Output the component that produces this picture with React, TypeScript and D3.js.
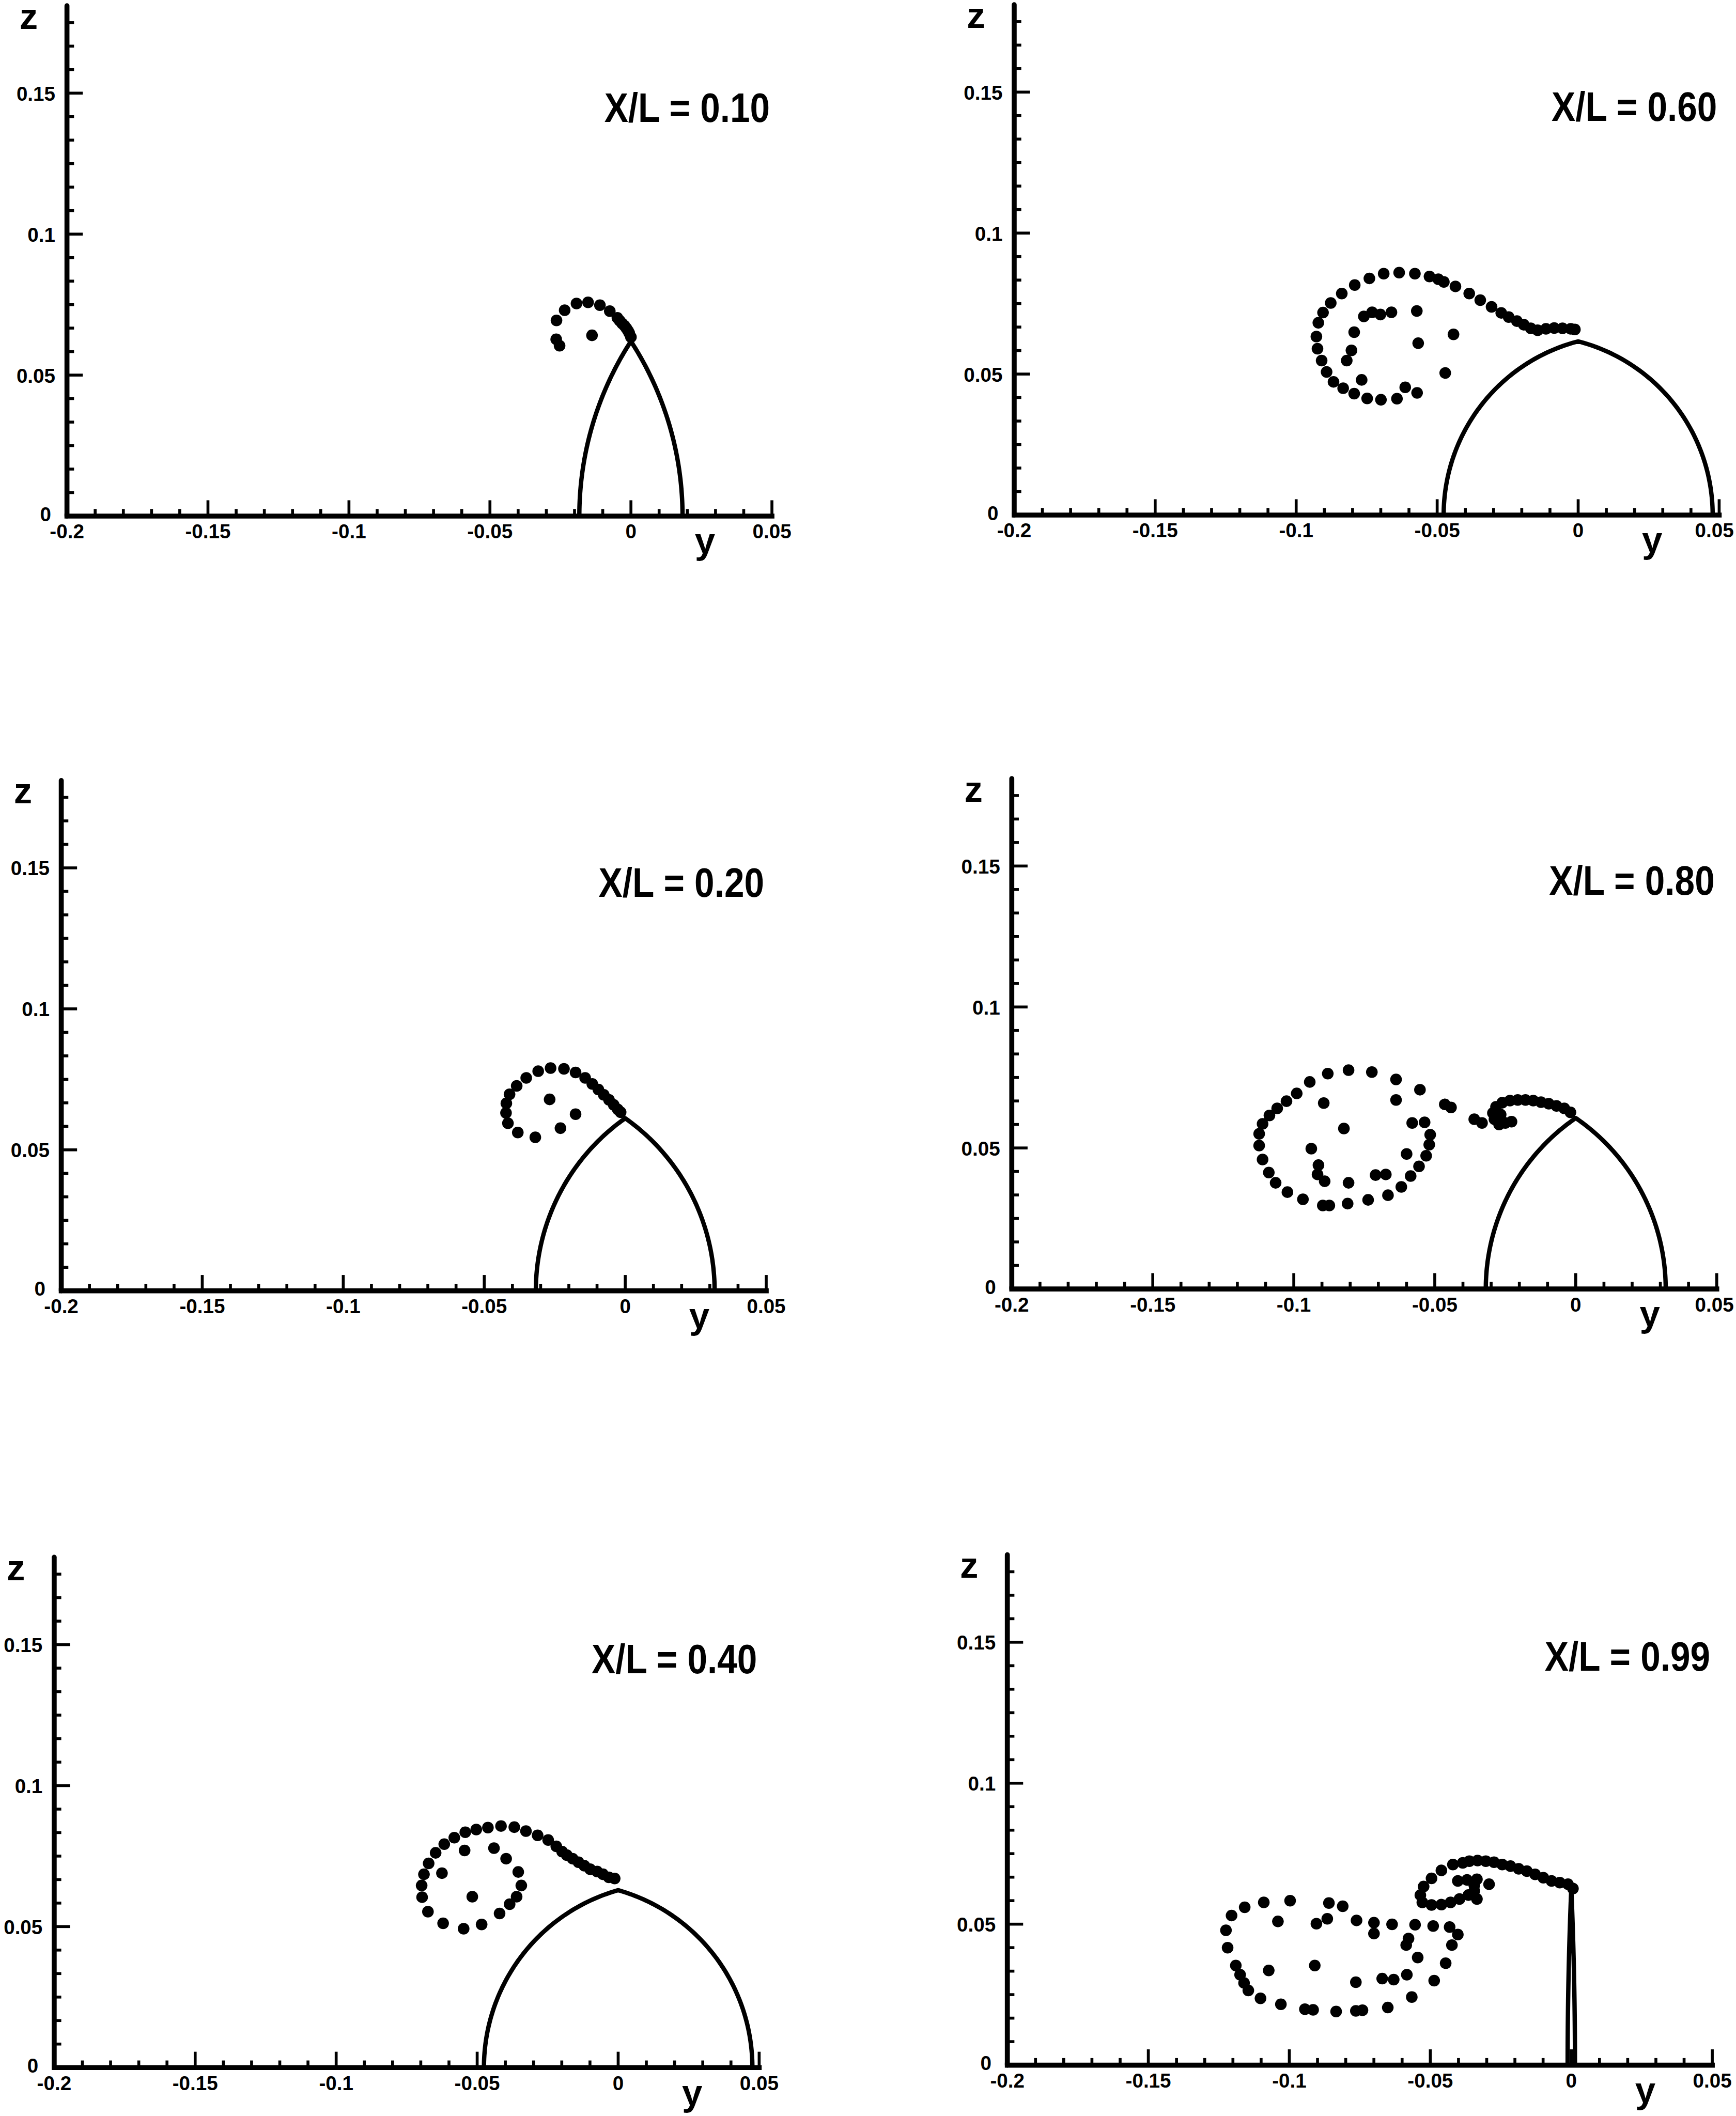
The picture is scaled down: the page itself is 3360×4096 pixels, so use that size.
import React from 'react';
import * as d3 from 'd3';

// Stream-wise stations shown in the six panels (reading order: row by row)
const stations = ['0.10', '0.60', '0.20', '0.80', '0.40', '0.99'];

// Body cross-section at each station: half-span at z = 0 and ridge height
const bodyHalfSpan = [0.0183, 0.0477, 0.0317, 0.0319, 0.0476, 0.0013];
const bodyHeight = [0.062, 0.0616, 0.0612, 0.0606, 0.0629, 0.0628];

// Vortex-sheet marker positions [y, z]
const sheet010: [number, number][] = [
  [-0.0265, 0.0627], [-0.0253, 0.0604], [-0.0264, 0.0694], [-0.0235, 0.073], [-0.0193, 0.0754],
  [-0.0152, 0.0758], [-0.011, 0.0748], [-0.0075, 0.0727], [-0.0048, 0.0703], [-0.004, 0.0693],
  [-0.0031, 0.0683], [-0.0023, 0.0675], [-0.0016, 0.0666], [-0.001, 0.0657], [-0.0006, 0.0649],
  [0.0, 0.0635], [-0.0138, 0.0641],
];

const sheet060: [number, number][] = [
  [-0.00116, 0.06583], [-0.00263, 0.06603], [-0.00556, 0.06622], [-0.0085, 0.06632], [-0.01143, 0.06603],
  [-0.01437, 0.06554], [-0.01681, 0.06622], [-0.01926, 0.06749], [-0.02171, 0.06877], [-0.02464, 0.07023],
  [-0.02728, 0.0717], [-0.03071, 0.07385], [-0.03472, 0.0762], [-0.03863, 0.07855], [-0.04352, 0.08109],
  [-0.04763, 0.08266], [-0.04959, 0.08364], [-0.05272, 0.08461], [-0.0579, 0.08559], [-0.06348, 0.08598],
  [-0.06896, 0.08559], [-0.07404, 0.08393], [-0.07923, 0.08158], [-0.08383, 0.07855], [-0.08774, 0.07522],
  [-0.09048, 0.0718], [-0.09214, 0.06818], [-0.09283, 0.06329], [-0.09244, 0.05898], [-0.09097, 0.05478],
  [-0.08921, 0.05076], [-0.08676, 0.04724], [-0.08334, 0.04499], [-0.07943, 0.04304], [-0.07483, 0.04137],
  [-0.06994, 0.04088], [-0.06426, 0.04128], [-0.05712, 0.04333], [-0.06133, 0.04529],
  [-0.07678, 0.04793], [-0.08207, 0.05478], [-0.0804, 0.05839], [-0.07943, 0.06485], [-0.076, 0.07043],
  [-0.07307, 0.0719], [-0.07013, 0.07111], [-0.06622, 0.0719], [-0.05722, 0.07238], [-0.05673, 0.06094],
  [-0.04421, 0.06407], [-0.04714, 0.05037],
];

const sheet020: [number, number][] = [
  [-0.0381, 0.05615], [-0.03189, 0.05446], [-0.0416, 0.05943], [-0.04228, 0.0631], [-0.04216, 0.06648],
  [-0.04103, 0.0697], [-0.03849, 0.07269], [-0.03511, 0.07551], [-0.03087, 0.07789], [-0.02647, 0.07901],
  [-0.02173, 0.07873], [-0.01761, 0.07743], [-0.01422, 0.07551], [-0.01168, 0.07337], [-0.00953, 0.07139],
  [-0.00761, 0.06953], [-0.00575, 0.06773], [-0.00406, 0.06592], [-0.00265, 0.06434], [-0.00163, 0.06332],
  [-0.02681, 0.06789], [-0.01761, 0.06264], [-0.02297, 0.05768],
];

const sheet080: [number, number][] = [
  [-0.08057, 0.07759], [-0.07231, 0.07693], [-0.06373, 0.07429], [-0.05525, 0.07066], [-0.04645, 0.06548],
  [-0.04424, 0.06438], [-0.03599, 0.0602], [-0.03324, 0.05888], [-0.08794, 0.07638], [-0.09433, 0.07341],
  [-0.09895, 0.06934], [-0.10258, 0.06659], [-0.10588, 0.06405], [-0.10863, 0.06152], [-0.11106, 0.05855],
  [-0.11227, 0.05503], [-0.11227, 0.05085], [-0.11106, 0.04589], [-0.10885, 0.04127], [-0.10643, 0.03764],
  [-0.10225, 0.03434], [-0.09675, 0.03181], [-0.0897, 0.0296], [-0.08739, 0.0296], [-0.0809, 0.03026],
  [-0.07363, 0.03159], [-0.06659, 0.03324], [-0.06186, 0.03621], [-0.05855, 0.04006], [-0.05558, 0.04347],
  [-0.05305, 0.04722], [-0.05195, 0.05118], [-0.05162, 0.0547], [-0.0536, 0.0591], [-0.058, 0.05888],
  [-0.06373, 0.06703],
  [-0.08937, 0.06593], [-0.08222, 0.0569], [-0.09378, 0.04975], [-0.09124, 0.04391], [-0.09157, 0.04061],
  [-0.08904, 0.03819], [-0.08057, 0.03764], [-0.07099, 0.04039], [-0.06736, 0.04061], [-0.05998, 0.04787],
  [-0.00186, 0.06262], [-0.00407, 0.06405], [-0.00682, 0.06493], [-0.00957, 0.0657], [-0.01232, 0.06625],
  [-0.01507, 0.06681], [-0.01783, 0.06703], [-0.02058, 0.06703], [-0.02333, 0.06681], [-0.02608, 0.06604],
  [-0.02828, 0.0646], [-0.02938, 0.0624], [-0.02883, 0.0602], [-0.02718, 0.05833], [-0.02498, 0.05888],
  [-0.02278, 0.05932], [-0.02663, 0.06185],
];

const sheet040: [number, number][] = [
  [-0.00124, 0.06705], [-0.00331, 0.06746], [-0.00538, 0.06854], [-0.00745, 0.06953], [-0.00993, 0.07036],
  [-0.012, 0.0716], [-0.01407, 0.07284], [-0.01614, 0.07408], [-0.01821, 0.07533], [-0.01987, 0.07657],
  [-0.02194, 0.07847], [-0.02483, 0.08071], [-0.02856, 0.08236], [-0.0327, 0.08385], [-0.03683, 0.08526],
  [-0.04155, 0.08567], [-0.04619, 0.08509], [-0.05033, 0.08443], [-0.05422, 0.08344], [-0.05811, 0.08153],
  [-0.06167, 0.07922], [-0.06473, 0.07615], [-0.06721, 0.07243], [-0.06887, 0.06854], [-0.06969, 0.06456],
  [-0.06953, 0.06043], [-0.06746, 0.05529], [-0.06208, 0.05116], [-0.0548, 0.04925], [-0.04842, 0.05074],
  [-0.04205, 0.05463], [-0.03849, 0.05794], [-0.03601, 0.06059], [-0.03435, 0.06456], [-0.03543, 0.06937],
  [-0.03973, 0.07408], [-0.04404, 0.07781], [-0.05446, 0.07698], [-0.06249, 0.06895], [-0.05173, 0.06059],
];

const sheet099: [number, number][] = [
  [-0.12247, 0.04783], [-0.12188, 0.04164], [-0.12048, 0.05307], [-0.11582, 0.05599], [-0.10905, 0.05774],
  [-0.09972, 0.05833], [-0.08596, 0.05751], [-0.08106, 0.05634], [-0.07616, 0.05133], [-0.06998, 0.05051],
  [-0.06356, 0.04993], [-0.0554, 0.04981], [-0.04899, 0.04934], [-0.04315, 0.04899], [-0.04024, 0.04631],
  [-0.04234, 0.04258], [-0.04455, 0.03616], [-0.04863, 0.02998], [-0.05657, 0.02415], [-0.06508, 0.02042],
  [-0.07406, 0.01948], [-0.0764, 0.01925], [-0.0834, 0.01902], [-0.09156, 0.0196], [-0.09447, 0.01983],
  [-0.10299, 0.02158], [-0.11022, 0.02368], [-0.11454, 0.02648], [-0.11605, 0.02916], [-0.11745, 0.03208],
  [-0.11897, 0.03534],
  [-0.10404, 0.05097], [-0.09039, 0.05016], [-0.08654, 0.05191], [-0.06998, 0.04666], [-0.05773, 0.04491],
  [-0.05855, 0.04258], [-0.05447, 0.03815], [-0.09097, 0.03534], [-0.1073, 0.03359], [-0.0764, 0.0294],
  [-0.06706, 0.03068], [-0.06298, 0.03033], [-0.05832, 0.03208],
  [-0.04199, 0.07115], [-0.04607, 0.06906], [-0.04957, 0.06626], [-0.05237, 0.06334], [-0.05353, 0.06031],
  [-0.05283, 0.05774], [-0.04957, 0.05681], [-0.04607, 0.05693], [-0.0428, 0.05774], [-0.03965, 0.05891],
  [-0.0365, 0.06031], [-0.03441, 0.06182], [-0.03347, 0.05891], [-0.04024, 0.06532], [-0.03697, 0.06567],
  [-0.03347, 0.06591], [-0.02916, 0.06416], [-0.03441, 0.06381],
  [-0.03849, 0.07174], [-0.03616, 0.07232], [-0.03324, 0.07256], [-0.03032, 0.07232], [-0.02741, 0.07197],
  [-0.02449, 0.07115], [-0.02157, 0.07057], [-0.01866, 0.06964], [-0.01575, 0.06882], [-0.01283, 0.06766],
  [-0.00991, 0.06649], [-0.007, 0.06532], [-0.00408, 0.06474], [-0.00117, 0.06416], [0.00058, 0.06264],
];

const sheets = [sheet010, sheet060, sheet020, sheet080, sheet040, sheet099];

// Axes
const yDomain: [number, number] = [-0.2, 0.05];
const zMax = 0.181;
const yTicks = [-0.2, -0.15, -0.1, -0.05, 0, 0.05];
const yTickLabels = ['-0.2', '-0.15', '-0.1', '-0.05', '0', '0.05'];
const zTicks = [0, 0.05, 0.1, 0.15];
const zTickLabels = ['0', '0.05', '0.1', '0.15'];

// ---- layout (in a 4174 x 5089 design space, scaled to the window) ----
const W = 3360;
const H = 4096;
const S = W / 4174;
const UNIT = 6780; // design px per unit of y or z (equal aspect)
const origins = [
  { ox: 1517, oz: 1241 },
  { ox: 3794.5, oz: 1238.5 },
  { ox: 1503.3, oz: 3104 },
  { ox: 3788.7, oz: 3099.5 },
  { ox: 1486.3, oz: 4971.8 },
  { ox: 3778, oz: 4966 },
];
const FONT = "'Liberation Sans', Arial, Helvetica, sans-serif";
const TICK_FONT = 48 * S;

function bodyOutline(b: number, h: number): [number, number][] {
  // two circular arcs meeting at the ridge (centres on z = 0)
  const c = (h * h - b * b) / (2 * b);
  const R = b + c;
  const t1 = Math.atan2(h, -c);
  const n = 80;
  const left: [number, number][] = d3.range(n + 1).map((i) => {
    const t = Math.PI + (t1 - Math.PI) * (i / n);
    return [c + R * Math.cos(t), R * Math.sin(t)];
  });
  const right: [number, number][] = left.slice(0, -1).reverse().map(([y, z]) => [-y, z]);
  return [...left, ...right];
}

function Panel({ idx }: { idx: number }) {
  const { ox, oz } = origins[idx];
  const x = d3
    .scaleLinear()
    .domain(yDomain)
    .range([(ox + yDomain[0] * UNIT) * S, (ox + yDomain[1] * UNIT) * S]);
  const z = d3.scaleLinear().domain([0, zMax]).range([oz * S, (oz - zMax * UNIT) * S]);

  const axisW = 12 * S;
  const tickW = 7 * S;
  const major = 38 * S;
  const minor = 17 * S;

  const yMinor = d3.range(-0.2, 0.05 + 1e-9, 0.01).filter((v) => yTicks.every((t) => Math.abs(t - v) > 1e-6));
  const zMinor = d3.range(0, zMax, 0.05 / 6).filter((v) => zTicks.every((t) => Math.abs(t - v) > 1e-6));

  const line = d3
    .line<[number, number]>()
    .x((d) => x(d[0]))
    .y((d) => z(d[1]));

  const x0 = x(yDomain[0]);
  const x1 = x(yDomain[1]);
  const zb = z(0);
  const zt = z(zMax);

  // keep the last tick label inside the drawing
  const halfLabel = 0.98 * TICK_FONT;
  const labelX = (t: number) => Math.min(x(t), W - 4 - halfLabel);

  return (
    <g>
      {/* body cross-section */}
      <path d={line(bodyOutline(bodyHalfSpan[idx], bodyHeight[idx])) || ''} fill="none" stroke="#000" strokeWidth={10.5 * S} strokeLinejoin="round" />

      {/* vortex sheet markers */}
      {sheets[idx].map((d, i) => (
        <circle key={i} cx={x(d[0])} cy={z(d[1])} r={14 * S} fill="#000" />
      ))}

      {/* axes */}
      <line x1={x0} y1={zb} x2={x1} y2={zb} stroke="#000" strokeWidth={axisW} strokeLinecap="square" />
      <line x1={x0} y1={zb} x2={x0} y2={zt} stroke="#000" strokeWidth={axisW} strokeLinecap="round" />
      {yTicks.map((t) => (
        <line key={'ym' + t} x1={x(t)} x2={x(t)} y1={zb} y2={zb - major} stroke="#000" strokeWidth={tickW} />
      ))}
      {yMinor.map((t, i) => (
        <line key={'yn' + i} x1={x(t)} x2={x(t)} y1={zb} y2={zb - minor} stroke="#000" strokeWidth={tickW} />
      ))}
      {zTicks.map((t) => (
        <line key={'zm' + t} x1={x0} x2={x0 + major} y1={z(t)} y2={z(t)} stroke="#000" strokeWidth={tickW} />
      ))}
      {zMinor.map((t, i) => (
        <line key={'zn' + i} x1={x0} x2={x0 + minor} y1={z(t)} y2={z(t)} stroke="#000" strokeWidth={tickW} />
      ))}

      {/* tick labels */}
      {yTicks.map((t, i) => (
        <text key={'yl' + t} x={labelX(t)} y={zb + 54 * S} textAnchor="middle" fontFamily={FONT} fontWeight="bold" fontSize={TICK_FONT}>
          {yTickLabels[i]}
        </text>
      ))}
      {zTicks.map((t, i) => (
        <text
          key={'zl' + t}
          x={x0 - (t === 0 ? 38 : 28) * S}
          y={z(t) + (t === 0 ? 12 : 18) * S}
          textAnchor="end"
          fontFamily={FONT}
          fontWeight="bold"
          fontSize={TICK_FONT}
        >
          {zTickLabels[i]}
        </text>
      ))}

      {/* axis titles */}
      <text x={x0 - 92 * S} y={zb - 1172 * S} textAnchor="middle" fontFamily={FONT} fontWeight="bold" fontSize={88 * S}>
        z
      </text>
      <text x={x(0) + 178 * S} y={zb + 90 * S} textAnchor="middle" fontFamily={FONT} fontWeight="bold" fontSize={88 * S}>
        y
      </text>

      {/* station label */}
      <text
        x={x1 - 5 * S}
        y={zb - 948 * S}
        textAnchor="end"
        fontFamily={FONT}
        fontWeight="bold"
        fontSize={98 * S}
        textLength={398 * S}
        lengthAdjust="spacingAndGlyphs"
      >
        {`X/L = ${stations[idx]}`}
      </text>
    </g>
  );
}

export default function App() {
  return (
    <svg
      width={W}
      height={H}
      viewBox={`0 0 ${W} ${H}`}
      style={{ position: 'absolute', left: 0, top: 0, background: '#fff' }}
    >
      <rect x={0} y={0} width={W} height={H} fill="#fff" />
      {stations.map((_, i) => (
        <Panel key={i} idx={i} />
      ))}
    </svg>
  );
}
